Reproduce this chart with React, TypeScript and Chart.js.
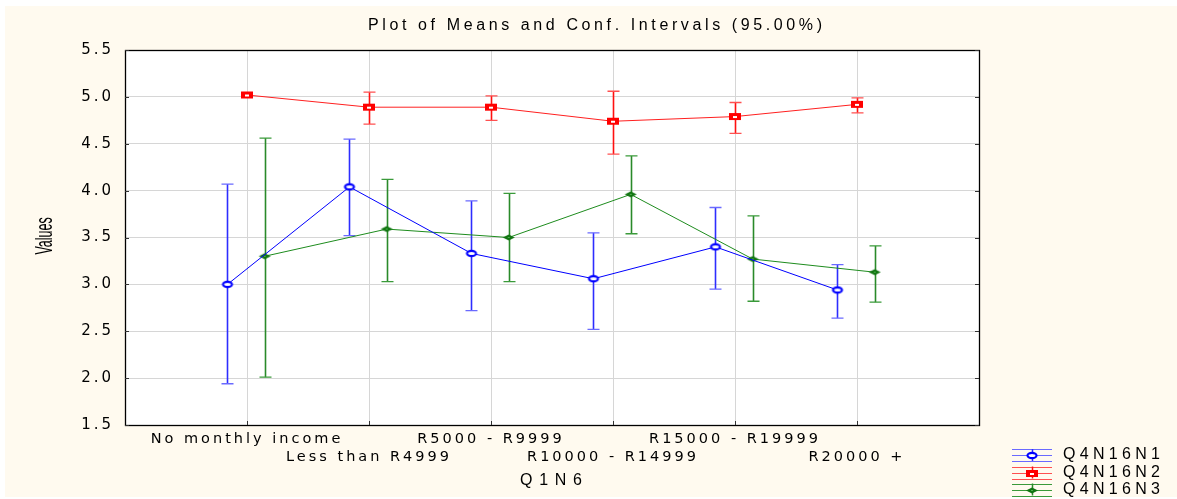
import { useEffect, useRef } from 'react';
import { Chart, registerables } from 'chart.js';

Chart.register(...registerables);

const categories = ['No monthly income', 'Less than R4999', 'R5000 - R9999', 'R10000 - R14999', 'R15000 - R19999', 'R20000 +'];
const yTicks = [1.5, 2.0, 2.5, 3.0, 3.5, 4.0, 4.5, 5.0, 5.5];

const seriesNames = ['Q4N16N1', 'Q4N16N2', 'Q4N16N3'];

const n1Mean = [3.0, 4.04, 3.33, 3.06, 3.4, 2.94];
const n1Low = [1.94, 3.52, 2.72, 2.52, 2.95, 2.64];
const n1High = [4.07, 4.55, 3.89, 3.55, 3.82, 3.21];

const n2Mean = [5.02, 4.89, 4.89, 4.74, 4.79, 4.92];
const n2Low = [5.02, 4.71, 4.75, 4.39, 4.61, 4.83];
const n2High = [5.02, 5.05, 5.01, 5.06, 4.94, 4.99];

const n3Mean = [3.3, 3.59, 3.5, 3.96, 3.27, 3.13];
const n3Low = [2.01, 3.03, 3.03, 3.54, 2.82, 2.81];
const n3High = [4.56, 4.12, 3.97, 4.37, 3.73, 3.41];

const offsets = [-0.16, 0, 0.145];

const CREAM = '#fffaef';
const lineColors = ['#0000ff', '#ff2020', '#1e8c1e'];
const barColors = ['#2d2dff', '#ff1010', '#2a8a2a'];
const capColors = ['#6a6aff', '#ff5050', '#3a9a3a'];

function makeMarker(kind: number): HTMLCanvasElement {
  const c = document.createElement('canvas');
  c.width = 14;
  c.height = 9;
  const g = c.getContext('2d')!;
  if (kind === 0) {
    g.fillStyle = '#ffffff';
    g.beginPath();
    g.ellipse(7, 4.5, 4.5, 2.6, 0, 0, Math.PI * 2);
    g.fill();
    g.strokeStyle = '#0000ff';
    g.lineWidth = 2.2;
    g.stroke();
  } else if (kind === 1) {
    g.fillStyle = '#ff0000';
    g.fillRect(1, 1, 12, 7);
    g.fillStyle = '#ffffff';
    g.fillRect(5, 4, 4, 2);
  } else {
    g.fillStyle = '#117511';
    g.beginPath();
    g.moveTo(1, 4.5);
    g.lineTo(7, 1.5);
    g.lineTo(13, 4.5);
    g.lineTo(7, 7.5);
    g.closePath();
    g.fill();
    g.fillStyle = '#4caf4c';
    g.fillRect(6, 4, 2, 1);
  }
  return c;
}

function spacedText(ctx: CanvasRenderingContext2D, text: string, x: number, y: number, targetW: number, font: string, align: 'center' | 'left') {
  ctx.save();
  ctx.font = font;
  (ctx as any).letterSpacing = '0px';
  const w = ctx.measureText(text).width;
  const ls = (targetW - w) / Math.max(1, text.length - 1);
  (ctx as any).letterSpacing = ls + 'px';
  const left = align === 'center' ? x - targetW / 2 : x;
  ctx.textAlign = 'left';
  ctx.textBaseline = 'middle';
  ctx.fillStyle = '#000';
  ctx.fillText(text, left, y);
  ctx.restore();
}

export default function App() {
  const ref = useRef<HTMLCanvasElement | null>(null);

  useEffect(() => {
    document.body.style.margin = '0';
    const canvas = ref.current!;
    const markers = [makeMarker(0), makeMarker(1), makeMarker(2)];
    const means = [n1Mean, n2Mean, n3Mean];
    const lows = [n1Low, n2Low, n3Low];
    const highs = [n1High, n2High, n3High];

    const decorPlugin = {
      id: 'decor',
      beforeDraw(chart: any) {
        const { ctx, chartArea: a, width, height } = chart;
        ctx.save();
        ctx.fillStyle = '#ffffff';
        ctx.fillRect(0, 0, width, height);
        ctx.fillStyle = CREAM;
        ctx.fillRect(5, 6, width - 5, height - 8);
        ctx.fillStyle = '#ffffff';
        ctx.fillRect(a.left, a.top, a.right - a.left, a.bottom - a.top);
        ctx.restore();
        ctx.letterSpacing = '3px';
      },
      beforeDatasetsDraw(chart: any) {
        const { ctx } = chart;
        const xs = chart.scales.x;
        const ys = chart.scales.y;
        ctx.save();
        (ctx as any).letterSpacing = '0px';
        for (let s = 0; s < 3; s++) {
          for (let i = 0; i < categories.length; i++) {
            const lo = lows[s][i];
            const hi = highs[s][i];
            if (hi - lo < 1e-6) continue;
            const px = Math.round(xs.getPixelForValue(i + offsets[s])) + 0.5;
            const pyl = ys.getPixelForValue(lo);
            const pyh = ys.getPixelForValue(hi);
            ctx.strokeStyle = barColors[s];
            ctx.lineWidth = 1.6;
            ctx.beginPath();
            ctx.moveTo(px, pyl);
            ctx.lineTo(px, pyh);
            ctx.stroke();
            ctx.strokeStyle = capColors[s];
            ctx.lineWidth = 1.3;
            ctx.beginPath();
            ctx.moveTo(px - 6, pyl);
            ctx.lineTo(px + 6, pyl);
            ctx.moveTo(px - 6, pyh);
            ctx.lineTo(px + 6, pyh);
            ctx.stroke();
          }
        }
        ctx.restore();
      },
      afterDraw(chart: any) {
        const { ctx, chartArea: a } = chart;
        const xs = chart.scales.x;
        const ys = chart.scales.y;
        ctx.save();
        ctx.strokeStyle = '#000';
        ctx.lineWidth = 1.3;
        ctx.strokeRect(Math.round(a.left) + 0.5, Math.round(a.top) + 0.5, Math.round(a.right - a.left), Math.round(a.bottom - a.top));
        ctx.strokeStyle = '#333';
        ctx.lineWidth = 1;
        ctx.beginPath();
        yTicks.forEach((v) => {
          const py = Math.round(ys.getPixelForValue(v)) + 0.5;
          ctx.moveTo(a.left, py);
          ctx.lineTo(a.left + 4, py);
          ctx.moveTo(a.right - 4, py);
          ctx.lineTo(a.right, py);
        });
        categories.forEach((_, i) => {
          const px = Math.round(xs.getPixelForValue(i)) + 0.5;
          ctx.moveTo(px, a.bottom);
          ctx.lineTo(px, a.bottom - 4);
        });
        ctx.stroke();
        ctx.restore();

        spacedText(ctx, 'Plot of Means and Conf. Intervals (95.00%)', 595, 26, 454, '16px "Liberation Sans", Arial, sans-serif', 'center');
        spacedText(ctx, 'Q1N6', 551, 481, 62, '16px "Liberation Sans", Arial, sans-serif', 'center');

        ctx.save();
        (ctx as any).letterSpacing = '0px';
        ctx.translate(45, 236);
        ctx.rotate(-Math.PI / 2);
        ctx.scale(0.52, 1);
        ctx.font = '24px "Liberation Sans", Arial, sans-serif';
        ctx.textAlign = 'center';
        ctx.textBaseline = 'middle';
        ctx.fillStyle = '#000';
        ctx.fillText('Values', 0, 0);
        ctx.restore();

        const rowsY = [455, 472.5, 489.5];
        for (let s = 0; s < 3; s++) {
          const cy = rowsY[s];
          ctx.save();
          (ctx as any).letterSpacing = '0px';
          ctx.strokeStyle = capColors[s];
          ctx.lineWidth = 1;
          ctx.beginPath();
          [-6, 0, 6].forEach((d) => {
            ctx.moveTo(1012, Math.round(cy + d) + 0.5);
            ctx.lineTo(1052, Math.round(cy + d) + 0.5);
          });
          ctx.stroke();
          ctx.strokeStyle = barColors[s];
          ctx.lineWidth = 1.5;
          ctx.beginPath();
          ctx.moveTo(1032.5, cy - 6);
          ctx.lineTo(1032.5, cy + 6);
          ctx.stroke();
          ctx.drawImage(markers[s], 1032 - 7, Math.round(cy) - 4);
          ctx.restore();
          spacedText(ctx, seriesNames[s], 1063, cy, 97, '16px "Liberation Sans", Arial, sans-serif', 'left');
        }
      },
    };

    const chart = new Chart(canvas, {
      type: 'line',
      data: {
        datasets: [0, 1, 2].map((s) => ({
          label: seriesNames[s],
          data: means[s].map((v, i) => ({ x: i + offsets[s], y: v })),
          borderColor: lineColors[s],
          borderWidth: 1,
          pointStyle: markers[s] as any,
          pointRadius: 5,
          fill: false,
          tension: 0,
        })),
      },
      options: {
        responsive: false,
        animation: false,
        events: [],
        layout: { padding: { left: 0, top: 50, right: 198, bottom: 0 } },
        plugins: {
          legend: { display: false },
          title: { display: false },
          tooltip: { enabled: false },
        },
        scales: {
          x: {
            type: 'linear',
            min: -1,
            max: 6,
            afterFit: (sc: any) => {
              sc.height = 74;
            },
            afterBuildTicks: (sc: any) => {
              sc.ticks = [-1, 0, 1, 2, 3, 4, 5, 6].map((v) => ({ value: v }));
            },
            border: { display: false },
            grid: { color: '#d6d6d6', lineWidth: 1, drawTicks: false },
            ticks: {
              autoSkip: false,
              maxRotation: 0,
              minRotation: 0,
              padding: 6,
              color: '#000',
              font: { family: '"DejaVu Sans", sans-serif', size: 14.5 },
              callback: (v: any) => {
                const i = Number(v);
                if (i < 0 || i >= categories.length) return '';
                return i % 2 === 0 ? categories[i] : ['', categories[i]];
              },
            },
          },
          y: {
            type: 'linear',
            min: 1.5,
            max: 5.5,
            afterFit: (sc: any) => {
              sc.width = 125;
            },
            afterBuildTicks: (sc: any) => {
              sc.ticks = yTicks.map((v) => ({ value: v }));
            },
            border: { display: false },
            grid: { color: '#d6d6d6', lineWidth: 1, drawTicks: false },
            ticks: {
              padding: 11,
              color: '#000',
              font: { family: '"DejaVu Sans", sans-serif', size: 15 },
              callback: (v: any) => Number(v).toFixed(1),
            },
          },
        },
      },
      plugins: [decorPlugin],
    });

    return () => {
      chart.destroy();
    };
  }, []);

  return (
    <div style={{ width: 1177, height: 499 }}>
      <canvas ref={ref} width={1177} height={499} style={{ display: 'block' }} />
    </div>
  );
}
